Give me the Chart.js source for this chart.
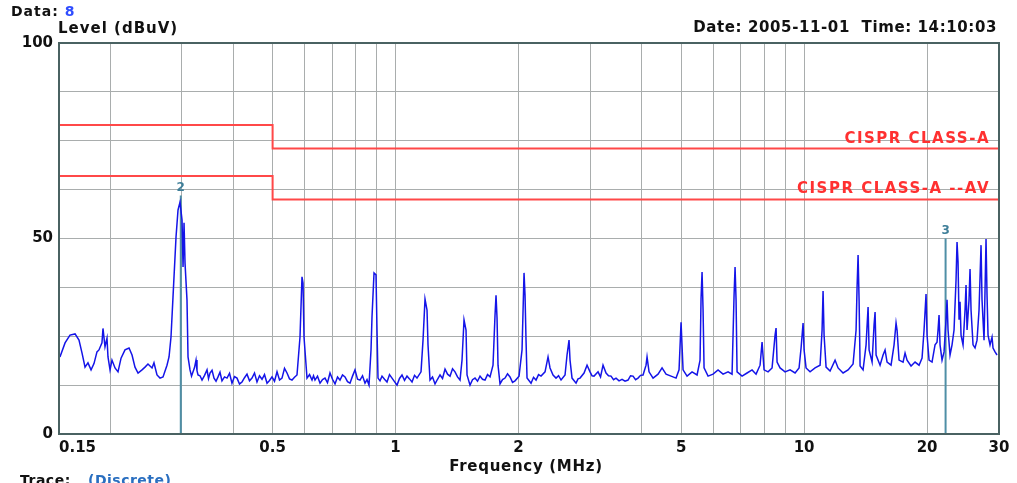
<!DOCTYPE html>
<html><head><meta charset="utf-8">
<script src="https://cdn.jsdelivr.net/npm/chart.js@4.4.1/dist/chart.umd.min.js"></script>
<style>html,body{margin:0;padding:0;background:#fff;}canvas{display:block;}</style>
</head><body>
<canvas id="c" width="1017" height="483"></canvas>
<script>
// ---- data ----
const freqMHz = [
0.1508,0.1552,0.1596,0.1642,0.1679,0.1708,0.1737,0.1766,0.1797,0.1827,
0.1858,0.1879,0.1911,0.1922,0.1944,0.1966,0.1977,0.2000,0.2022,0.2057,
0.2092,0.2128,0.2176,0.2226,0.2264,0.2302,0.2342,0.2395,0.2436,0.2477,
0.2534,0.2562,0.2606,0.2651,0.2696,0.2757,0.2789,0.2820,0.2852,0.2901,
0.2934,0.2967,0.3001,0.3018,0.3035,0.3052,0.3086,0.3104,0.3139,0.3166,
0.3193,0.3220,0.3247,0.3265,0.3284,0.3321,0.3359,0.3407,0.3455,0.3484,
0.3514,0.3554,0.3594,0.3635,0.3676,0.3717,0.3759,0.3813,0.3867,0.3922,
0.3977,0.4034,0.4091,0.4149,0.4208,0.4268,0.4328,0.4390,0.4452,0.4515,
0.4579,0.4644,0.4710,0.4777,0.4845,0.4914,0.4983,0.5054,0.5126,0.5199,
0.5272,0.5347,0.5423,0.5500,0.5578,0.5657,0.5737,0.5835,0.5901,0.5935,
0.5968,0.6070,0.6157,0.6244,0.6297,0.6350,0.6440,0.6532,0.6625,0.6718,
0.6813,0.6910,0.7008,0.7108,0.7209,0.7311,0.7415,0.7520,0.7627,0.7735,
0.7845,0.7956,0.8069,0.8184,0.8300,0.8418,0.8513,0.8609,0.8707,0.8756,
0.8856,0.8956,0.9006,0.9057,0.9160,0.9264,0.9396,0.9529,0.9664,0.9801,
0.9940,1.0081,1.0224,1.0369,1.0517,1.0666,1.0818,1.0971,1.1127,1.1284,
1.1542,1.1673,1.1805,1.1939,1.2006,1.2142,1.2315,1.2490,1.2667,1.2847,
1.3030,1.3214,1.3402,1.3592,1.3785,1.3980,1.4178,1.4380,1.4543,1.4708,
1.4875,1.4959,1.5213,1.5429,1.5648,1.5870,1.6095,1.6324,1.6555,1.6790,
1.7029,1.7319,1.7516,1.7615,1.7715,1.7814,1.8017,1.8273,1.8532,1.8795,
1.9062,1.9333,1.9607,2.0054,2.0396,2.0627,2.0744,2.0861,2.0979,2.1458,
2.1762,2.2071,2.2385,2.2703,2.3220,2.3616,2.3883,2.4291,2.4705,2.5057,
2.5412,2.5991,2.6286,2.6583,2.6733,2.7036,2.7653,2.7967,2.8284,2.8929,
2.9423,2.9924,3.0263,3.0606,3.1304,3.1750,3.2199,3.2748,3.3213,3.3684,
3.4162,3.4647,3.5240,3.5840,3.6452,3.7073,3.7600,3.8132,3.8673,3.9222,
3.9780,4.0344,4.1031,4.1264,4.1732,4.2684,4.3904,4.4906,4.5929,4.7243,
4.8593,4.9422,4.9983,5.0550,5.1702,5.3181,5.4701,5.5634,5.5949,5.6265,
5.6583,5.6903,5.8200,5.9864,6.1575,6.3336,6.5147,6.6632,6.7388,6.7769,
6.8151,6.8537,7.0496,7.2512,7.4585,7.6286,7.8026,7.8911,7.9805,8.1624,
8.3486,8.4909,8.5389,8.5872,8.7336,8.9834,9.2402,9.5043,9.7211,9.8313,
9.9428,9.9990,10.112,10.343,10.638,10.943,11.067,11.129,11.192,11.319,
11.577,11.908,12.111,12.458,12.814,13.180,13.405,13.481,13.557,13.634,
13.711,13.944,14.182,14.343,14.424,14.670,14.836,14.920,15.005,15.345,
15.607,15.784,15.963,16.326,16.605,16.793,16.888,17.079,17.469,17.667,
17.867,18.274,18.691,19.117,19.443,19.663,19.885,19.998,20.225,20.569,
20.920,21.157,21.277,21.397,21.518,21.762,22.009,22.257,22.383,22.510,
22.765,23.023,23.284,23.548,23.681,23.815,23.950,24.085,24.221,24.496,
24.774,24.914,25.055,25.338,25.482,25.626,25.916,26.210,26.507,26.807,
27.111,27.264,27.573,27.729,27.885,28.043,28.202,28.521,28.845,29.007,
29.336,29.669
];
const levelDbuV = [
19.7,23.3,25.3,25.6,24.0,20.7,17.1,18.2,16.4,18.0,
21.0,21.5,23.3,27.0,22.3,24.5,19.7,16.4,18.9,16.9,
15.9,19.4,21.5,22.0,20.2,17.1,15.6,16.4,17.1,17.9,
16.9,18.2,15.1,14.3,14.6,17.6,19.7,24.8,35.0,50.4,
57.3,59.3,54.7,42.7,54.0,43.7,34.3,19.7,16.4,14.8,
15.9,17.0,18.9,16.2,15.1,14.9,13.8,15.0,16.4,14.2,
15.6,16.3,14.3,13.5,14.6,15.8,13.6,14.6,14.3,15.5,
13.0,14.7,14.3,12.8,13.3,14.4,15.3,13.6,14.3,15.6,
13.3,14.9,14.0,15.2,13.0,13.7,14.6,13.5,15.9,13.8,
14.3,16.8,15.6,14.1,13.8,14.5,15.1,24.8,40.2,38.6,
24.8,14.3,15.2,13.8,14.9,13.8,14.8,13.0,13.9,14.3,
13.1,15.6,14.0,12.8,14.6,13.8,15.1,14.6,13.4,13.0,
14.8,16.4,14.0,13.8,14.9,13.0,13.9,12.5,21.5,30.0,
41.2,40.7,26.6,14.3,13.6,14.8,14.0,13.3,15.2,14.3,
13.4,12.5,14.2,15.1,13.7,14.8,14.1,13.3,15.0,14.3,
15.9,24.0,34.5,31.7,22.8,13.8,14.6,12.8,14.0,15.1,
14.2,16.6,15.3,14.8,16.7,15.9,14.6,13.8,18.9,29.2,
26.6,15.1,12.5,13.9,14.3,13.5,14.8,14.0,13.8,15.2,
14.6,17.6,30.4,35.5,29.7,17.6,12.8,13.9,14.3,15.4,
14.6,13.2,13.6,14.8,21.5,41.2,35.5,24.0,14.3,13.0,
14.5,13.8,15.2,14.8,15.9,19.7,16.9,15.1,14.3,14.9,
13.8,15.1,20.2,24.0,18.9,14.3,13.0,14.1,14.3,15.6,
17.6,15.9,14.9,14.8,15.9,14.6,17.6,15.6,14.9,14.8,
13.9,14.3,13.6,14.0,13.5,13.8,14.9,14.8,13.9,14.3,
15.0,15.1,17.6,19.7,15.9,14.3,15.3,16.9,15.3,14.8,
14.3,16.4,28.6,16.4,14.8,15.9,15.1,18.9,34.8,41.4,
31.7,16.9,14.8,15.3,16.4,15.3,15.9,15.3,35.5,42.7,
34.3,15.9,14.8,15.6,16.4,15.3,17.6,23.5,16.4,15.9,
16.9,25.3,27.1,18.4,16.9,15.9,16.4,15.6,16.9,22.0,
28.4,21.5,16.9,15.9,16.9,17.6,26.6,36.6,25.3,17.1,
16.1,18.9,16.9,15.6,16.4,17.9,26.6,37.6,45.8,34.3,
17.4,16.4,22.8,32.5,21.5,18.4,27.9,31.2,20.2,17.6,
20.2,21.5,18.4,17.6,22.8,28.4,26.6,18.9,18.4,20.7,
18.9,17.4,18.4,17.6,19.4,26.6,35.8,25.3,18.9,18.4,
22.8,23.5,26.6,30.4,22.8,18.9,21.0,29.2,34.3,26.6,
20.2,22.8,26.6,39.4,49.1,44.0,29.2,33.8,25.3,22.8,
31.7,38.1,26.6,34.3,42.2,31.7,22.8,22.0,24.0,31.7,
48.3,34.3,24.0,36.8,49.9,35.5,25.3,22.8,24.8,22.0,
21.0,20.2
];
const limitFreqMHz = [0.15, 0.5, 0.5, 30];
const limitQuasiPeak = [79, 79, 73, 73];
const limitAverage = [66, 66, 60, 60];
const limitNames = ["CISPR CLASS-A", "CISPR CLASS-A --AV"];
const markerFreqMHz = [0.298, 22.2];
const markerLevel = [61, 50];
const markerNames = ["2", "3"];
const xGridMHz = [0.15,0.2,0.3,0.4,0.5,0.6,0.7,0.8,0.9,1,2,3,4,5,6,7,8,9,10,20,30];
const xTickLabels = [0.15,0.5,1,2,5,10,20,30];
const yTickLabels = [0,50,100];
const yGridStep = 12.5;

// ---- chart ----
const pts = (xs, ys) => xs.map((x, i) => ({x: x, y: ys[i]}));
const markerSets = markerFreqMHz.map((f, i) => ({
  data: [{x: f, y: 0}, {x: f, y: markerLevel[i]}],
  borderColor: '#4f8fa6', borderWidth: 2, pointRadius: 0, order: 3
}));

const FONT = '"DejaVu Sans", Verdana, sans-serif';
function spacing(ctx, v) { try { ctx.letterSpacing = v; } catch (e) {} }
const textPlugin = {
  id: 'texts',
  afterDraw(chart) {
    const ctx = chart.ctx, a = chart.chartArea;
    const xs = chart.scales.x, ys = chart.scales.y;
    ctx.save();
    // frame
    ctx.strokeStyle = '#4a6262'; ctx.lineWidth = 2;
    ctx.strokeRect(a.left, a.top, a.right - a.left, a.bottom - a.top);
    // y tick labels
    ctx.fillStyle = '#111'; ctx.font = 'bold 15px ' + FONT;
    ctx.textAlign = 'right'; ctx.textBaseline = 'middle';
    yTickLabels.forEach(v => ctx.fillText(String(v), a.left - 6, ys.getPixelForValue(v)));
    // x tick labels
    xTickLabels.forEach((v, i) => {
      const px = xs.getPixelForValue(v);
      ctx.textAlign = i === 0 ? 'left' : 'center';
      ctx.fillText(String(v), px, a.bottom + 14);
    });
    // axis titles / header
    spacing(ctx, '0.7px');
    ctx.textAlign = 'center';
    ctx.fillText('Frequency (MHz)', 526, 467);
    spacing(ctx, '1px');
    ctx.textAlign = 'left';
    ctx.fillText('Level (dBuV)', 58, 29);
    ctx.font = 'bold 14px ' + FONT;
    ctx.fillText('Data:', 11, 12);
    const dw = ctx.measureText('Data: ').width;
    ctx.fillStyle = '#2f4dff'; ctx.fillText('8', 11 + dw, 12);
    ctx.fillStyle = '#111'; ctx.font = 'bold 15px ' + FONT;
    spacing(ctx, '0.6px');
    ctx.textAlign = 'right';
    ctx.fillText('Date: 2005-11-01  Time: 14:10:03', 997, 28);
    // trace footer
    spacing(ctx, '0.5px');
    ctx.textAlign = 'left'; ctx.textBaseline = 'top'; ctx.font = 'bold 14px ' + FONT;
    ctx.fillText('Trace:', 20, 474);
    ctx.fillStyle = '#2a6fc0'; ctx.fillText('(Discrete)', 88, 474);
    // limit labels
    ctx.fillStyle = '#ff3030'; ctx.font = 'bold 15px ' + FONT;
    ctx.textAlign = 'right'; ctx.textBaseline = 'middle';
    spacing(ctx, '1.5px');
    ctx.fillText(limitNames[0], 990, ys.getPixelForValue(limitQuasiPeak[3]) - 9);
    ctx.fillText(limitNames[1], 990, ys.getPixelForValue(limitAverage[3]) - 10);
    spacing(ctx, '0px');
    // marker labels
    ctx.fillStyle = '#3f7f99'; ctx.font = 'bold 12px ' + FONT; ctx.textAlign = 'center';
    markerFreqMHz.forEach((f, i) => ctx.fillText(markerNames[i], xs.getPixelForValue(f), ys.getPixelForValue(markerLevel[i]) - 8));
    ctx.restore();
  }
};

new Chart(document.getElementById('c'), {
  type: 'line',
  data: {
    datasets: [
      {data: pts(limitFreqMHz, limitQuasiPeak), borderColor: '#ff4848', borderWidth: 2, pointRadius: 0, order: 2},
      {data: pts(limitFreqMHz, limitAverage), borderColor: '#ff4848', borderWidth: 2, pointRadius: 0, order: 2},
      ...markerSets,
      {data: pts(freqMHz, levelDbuV), borderColor: '#1414e8', borderWidth: 1.5, pointRadius: 0, tension: 0, order: 1}
    ]
  },
  options: {
    responsive: false, animation: false, devicePixelRatio: 1,
    layout: {padding: {left: 59, right: 18, top: 43, bottom: 49}},
    plugins: {legend: {display: false}, tooltip: {enabled: false}},
    scales: {
      x: {
        type: 'logarithmic', min: 0.15, max: 30,
        afterBuildTicks: s => { s.ticks = xGridMHz.map(v => ({value: v})); },
        afterFit: s => { s.height = 0; },
        ticks: {display: false},
        grid: {color: '#a9adad', lineWidth: 1, drawTicks: false},
        border: {display: false}
      },
      y: {
        type: 'linear', min: 0, max: 100,
        afterBuildTicks: s => { const t = []; for (let v = 0; v <= 100; v += yGridStep) t.push({value: v}); s.ticks = t; },
        afterFit: s => { s.width = 0; },
        ticks: {display: false},
        grid: {color: '#a9adad', lineWidth: 1, drawTicks: false},
        border: {display: false}
      }
    }
  },
  plugins: [textPlugin]
});
</script>
</body></html>
